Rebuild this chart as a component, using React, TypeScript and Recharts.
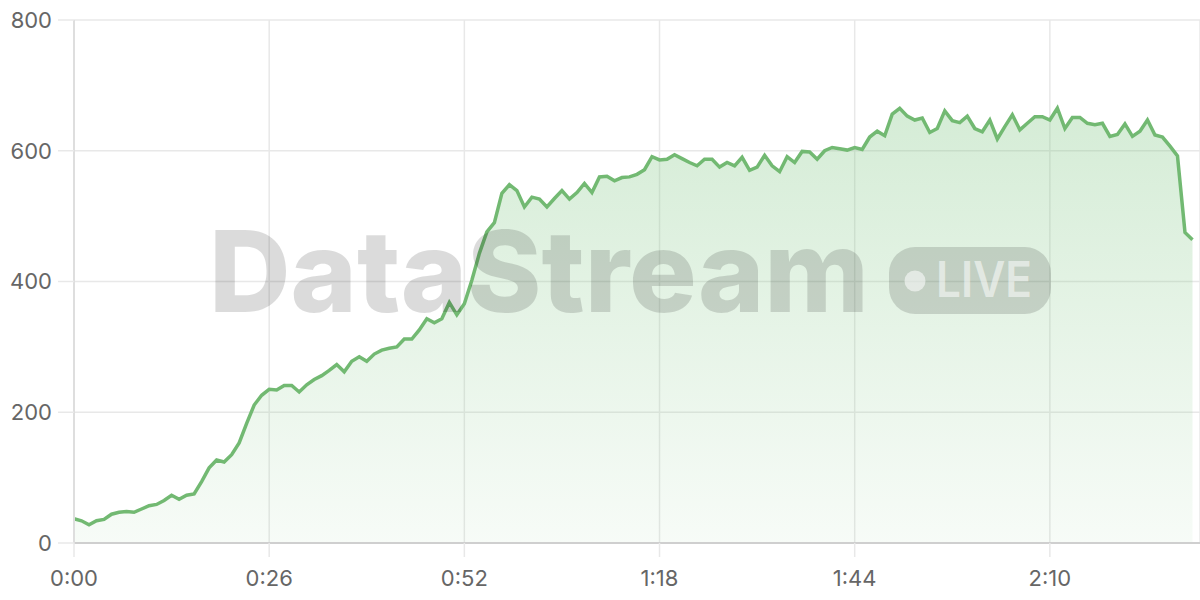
import {
  AreaChart,
  Area,
  XAxis,
  YAxis,
  CartesianGrid,
} from "recharts";

// one reading per second, starting at 0:00
const values: number[] = [
  37, 34, 28, 34, 36, 44, 47, 48, 47, 52,
  57, 59, 65, 73, 67, 73, 75, 94, 115, 127,
  124, 135, 153, 183, 211, 226, 235, 234, 241, 241,
  231, 242, 250, 256, 264, 273, 262, 278, 285, 278,
  289, 295, 298, 300, 312, 312, 326, 343, 337, 343,
  368, 349, 366, 402, 443, 476, 490, 535, 548, 539,
  514, 529, 526, 514, 527, 539, 526, 536, 550, 536,
  560, 561, 554, 559, 560, 564, 571, 591, 586, 587,
  594, 588, 582, 577, 587, 587, 575, 582, 577, 590,
  570, 575, 593, 577, 568, 591, 582, 599, 598, 587,
  600, 605, 603, 601, 605, 602, 621, 630, 623, 656,
  665, 653, 647, 650, 628, 634, 661, 646, 643, 653,
  634, 629, 647, 618, 637, 655, 632, 642, 652, 652,
  647, 665, 634, 651, 651, 642, 640, 642, 622, 625,
  641, 622, 630, 647, 624, 621, 607, 592, 475, 464,
];

const xTicks = [0, 26, 52, 78, 104, 130];
const yTicks = [0, 200, 400, 600, 800];

const data = values.map((v, i) => ({ t: i, v }));

const fmtTime = (s: number) => {
  const m = Math.floor(s / 60);
  const sec = s % 60;
  return `${m}:${sec < 10 ? "0" : ""}${sec}`;
};

const font = "Inter, 'Open Sans', sans-serif";

export default function App() {
  return (
    <div style={{ position: "absolute", left: 0, top: 0, width: 1200, height: 600, background: "#fff" }}>
      <AreaChart
        width={1200}
        height={600}
        data={data}
        margin={{ top: 20, right: 0, bottom: 0, left: 0 }}
      >
        <defs>
          <linearGradient id="fillGreen" x1="0" y1="0" x2="0" y2="1">
            <stop offset="0%" stopColor="#7bc47f" stopOpacity={0.32} />
            <stop offset="100%" stopColor="#7bc47f" stopOpacity={0.06} />
          </linearGradient>
        </defs>

        {/* GRID */}
        <CartesianGrid stroke="#e8e8e8" strokeWidth={1.5} />

        {/* X */}
        <XAxis
          dataKey="t"
          type="number"
          domain={[0, 150]}
          ticks={xTicks}
          tickFormatter={fmtTime}
          height={57}
          tickSize={14}
          tickMargin={13}
          stroke="#cfcfcf"
          strokeWidth={2}
          tickLine={{ stroke: "#e8e8e8", strokeWidth: 1.5 }}
          tick={{ fill: "#666", fontSize: 22, fontFamily: font }}
        />

        {/* Y */}
        <YAxis
          domain={[0, 800]}
          ticks={yTicks}
          width={74}
          tickSize={16}
          tickMargin={6}
          stroke="#dedede"
          strokeWidth={2}
          tickLine={{ stroke: "#e8e8e8", strokeWidth: 1.5 }}
          tick={{ fill: "#666", fontSize: 22, fontFamily: font }}
        />

        <Area
          type="linear"
          dataKey="v"
          stroke="#72b972"
          strokeWidth={3.5}
          fill="url(#fillGreen)"
          fillOpacity={1}
          dot={false}
          activeDot={false}
          isAnimationActive={false}
        />
      </AreaChart>

      {/* WATERMARK */}
      <svg
        width={1200}
        height={600}
        style={{ position: "absolute", left: 0, top: 0, pointerEvents: "none" }}
      >
        <text
          x={209}
          y={312}
          fontFamily={font}
          fontWeight={800}
          fontSize={113}
          textLength={660}
          lengthAdjust="spacingAndGlyphs"
          fill="rgba(0,0,0,0.14)"
        >
          DataStream
        </text>
        <rect x={889} y={247} width={162} height={67} rx={26} fill="rgba(0,0,0,0.14)" />
        <circle cx={915} cy={281} r={10.5} fill="rgba(255,255,255,0.55)" />
        <text
          x={936}
          y={297}
          fontFamily={font}
          fontWeight={600}
          fontSize={49}
          textLength={96}
          lengthAdjust="spacingAndGlyphs"
          fill="rgba(255,255,255,0.55)"
        >
          LIVE
        </text>
      </svg>
    </div>
  );
}
